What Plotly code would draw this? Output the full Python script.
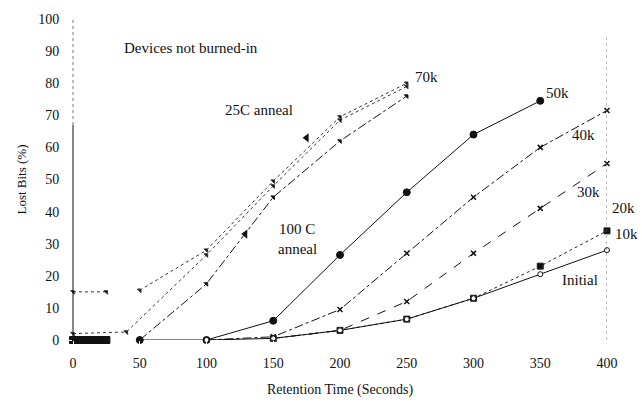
import plotly.graph_objects as go

# Retention time (s) and lost-bit percentages per cycling condition
t_main = [50, 100, 150, 200, 250, 300, 350]
loss_50k = [0, 0, 6, 26.5, 46, 64, 74.5]

t_40k = [100, 150, 200, 250, 300, 350, 400]
loss_40k = [0, 1, 9.5, 27, 44.5, 60, 71.5]

t_30k = [150, 200, 250, 300, 350, 400]
loss_30k = [0.5, 3, 12, 27, 41, 55]

t_10k = [150, 200, 250, 300, 350, 400]
loss_10k = [0.5, 3, 6.5, 13, 23, 34]

t_init = [100, 150, 200, 250, 300, 350, 400]
loss_init = [0, 0.5, 3, 6.5, 13, 20.5, 28]

# 70k devices after anneal
t_70k_25c = [0, 25, None, 50, 100, 150, 200, 250]
loss_70k_25c = [15, 15, None, 15.5, 28, 49.5, 69.5, 80]

t_70k_mid = [0, 40, 100, 150, 200, 250]
loss_70k_mid = [2, 2.5, 26.5, 48, 68.5, 79]

t_70k_100c = [50, 100, 150, 200, 250]
loss_70k_100c = [0, 17.5, 44.5, 62, 76]

# early-time readings, all at zero
t_early = [0, 5, 10, 15, 20, 25]
loss_early = [0, 0, 0, 0, 0, 0]

# pointer markers for the anneal labels
t_ptr = [175, 129]
loss_ptr = [63, 33]

x_ticks = [0, 50, 100, 150, 200, 250, 300, 350, 400]
y_ticks = [0, 10, 20, 30, 40, 50, 60, 70, 80, 90, 100]

FONT = "Liberation Serif, Times New Roman, serif"
INK = "#111111"

fig = go.Figure()

def add(x, y, dash, symbol, size, fill=INK, width=1, color=INK, mline=1):
    fig.add_trace(go.Scatter(
        x=x, y=y, mode="lines+markers", cliponaxis=False, connectgaps=False,
        line=dict(color=color, width=width, dash=dash),
        marker=dict(symbol=symbol, size=size, color=fill,
                    line=dict(color=color, width=mline)),
        showlegend=False))

add(t_70k_25c, loss_70k_25c, "dot", "triangle-ne", 4, color="#333333")
add(t_70k_mid, loss_70k_mid, "dot", "triangle-ne", 4, color="#333333")
add(t_70k_100c, loss_70k_100c, "dashdot", "triangle-ne", 4)
add(t_main, loss_50k, "solid", "circle", 7)
add(t_40k, loss_40k, "dashdot", "x-thin-open", 5, mline=1.5)
add(t_30k, loss_30k, "dash", "x-thin-open", 5, mline=1.5)
add(t_10k, loss_10k, "dot", "square", 6, color="#222222")
add(t_init, loss_init, "solid", "circle", 5, fill="white")
add(t_early, loss_early, "solid", "square", 7, width=7)

fig.add_trace(go.Scatter(
    x=t_ptr, y=loss_ptr, mode="markers", cliponaxis=False,
    marker=dict(symbol="triangle-left", size=8, color=INK),
    showlegend=False))

# left axis: solid lower part, dotted upper part; dotted guide at 400 s
fig.add_shape(type="line", xref="paper", yref="y", x0=0, x1=0, y0=0, y1=67,
              line=dict(color=INK, width=1))
fig.add_shape(type="line", xref="paper", yref="y", x0=0, x1=0, y0=67, y1=100,
              line=dict(color="#777777", width=1, dash="dot"))
fig.add_shape(type="line", xref="x", yref="y", x0=400, x1=400, y0=0, y1=94.5,
              line=dict(color="#777777", width=1, dash="dot"))

labels = [
    (37, 91, "Devices not burned-in", "left", 0),
    (139, 71.5, "25C anneal", "center", 0),
    (255, 82, "70k", "left", 0),
    (353, 77, "50k", "left", 0),
    (372, 64, "40k", "left", 0),
    (376, 46, "30k", "left", 0),
    (400, 41, "20k", "left", 3),
    (400, 33, "10k", "left", 6),
    (380, 18.7, "Initial", "center", 0),
    (168, 34.7, "100 C", "center", 0),
    (168, 28.5, "anneal", "center", 0),
]
for x, y, s, anc, dx in labels:
    fig.add_annotation(x=x, y=y, text=s, showarrow=False, xanchor=anc, xshift=dx,
                       font=dict(family=FONT, size=15, color=INK))

fig.update_layout(
    width=642, height=411,
    margin=dict(l=73, r=35, t=14, b=71),
    paper_bgcolor="white", plot_bgcolor="white",
    font=dict(family=FONT, size=13, color=INK),
    xaxis=dict(range=[0, 400], tickvals=x_ticks, showgrid=False, zeroline=False,
               showline=False, ticks="outside", ticklen=10, tickcolor="white",
               tickfont=dict(family=FONT, size=14),
               title=dict(text="Retention Time (Seconds)", standoff=14,
                          font=dict(family=FONT, size=14))),
    yaxis=dict(range=[0, 100], tickvals=y_ticks, showgrid=False, zeroline=False,
               showline=False, ticks="outside", ticklen=10, tickcolor="white",
               tickfont=dict(family=FONT, size=14),
               title=dict(text="Lost Bits (%)", standoff=8,
                          font=dict(family=FONT, size=13))),
)

fig.write_html("out.html")
